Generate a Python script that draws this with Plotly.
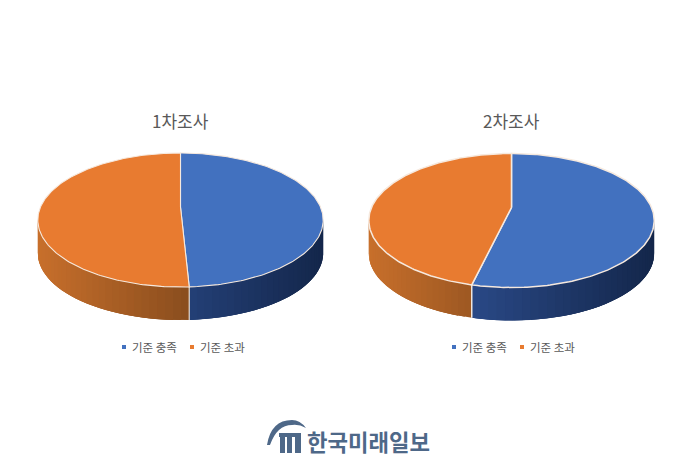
import numpy as np
import plotly.graph_objects as go

# 조사별 비율
categories = ['기준 충족', '기준 초과']
survey_titles = ['1차조사', '2차조사']
survey_1 = [49.2, 50.8]
survey_2 = [53.7, 46.3]

top_colors = ['#4271BF', '#E87B30']
side_left = [(0x36, 0x5C, 0xA8), (0xC8, 0x70, 0x2C)]
side_right = [(0x14, 0x27, 0x4B), (0x53, 0x2F, 0x12)]
text_color = '#595959'
logo_color = '#4E6888'
font_kr = 'Noto Sans CJK KR'

# 원판 모양
centers = [(180.5, 207), (511.5, 207.5)]
persp = 0.194
depth = 33
page_margin = 8  # 브라우저 body 기본 여백


def project(theta, cx, cy):
    # 시계방향, 12시 기준 / 뒤쪽이 작아 보이게 원근 적용
    u, v = np.sin(theta), np.cos(theta)
    w = 1 + persp * v
    return cx + 140 * u / w, cy - 64.5 * v / w


def lerp(a, b, t):
    t = min(max(t, 0), 1)
    return 'rgb(%d,%d,%d)' % tuple(a[i] + (b[i] - a[i]) * t for i in range(3))


def add_pie(fig, values, cx, cy, edge_width):
    shares = np.array(values) / sum(values)
    stops = np.concatenate([[0], np.cumsum(shares)]) * 2 * np.pi
    xmin, xmax = cx - 143, cx + 143

    # 옆면: 조각별로 잘게 나눠서 그라데이션 (틈이 안 보이게 겹쳐 그림)
    for k in range(len(values)):
        th = np.linspace(stops[k], stops[k + 1], 70)
        x, y = project(th, cx, cy)
        front = [i for i in range(len(th) - 1) if x[i + 1] < x[i]]
        for i in front:
            j = min(i + 3, front[-1] + 1)
            xs, ys = x[i:j + 1], y[i:j + 1]
            t = ((x[i] + x[i + 1]) / 2 - xmin) / (xmax - xmin)
            c = lerp(side_left[k], side_right[k], t)
            fig.add_trace(go.Scatter(
                x=np.concatenate([xs, xs[::-1], xs[:1]]),
                y=np.concatenate([ys, ys[::-1] + depth, ys[:1]]),
                mode='lines', fill='toself', fillcolor=c,
                line=dict(color=c, width=0),
                hoverinfo='skip', showlegend=False,
            ))

    # 옆면 경계선
    for s in stops[:-1]:
        x, y = project(np.array([s]), cx, cy)
        if np.cos(s) < 0:
            fig.add_trace(go.Scatter(
                x=[x[0], x[0]], y=[y[0], y[0] + depth], mode='lines',
                line=dict(color='#EFE6DE', width=edge_width),
                hoverinfo='skip', showlegend=False,
            ))

    # 윗면
    for k in range(len(values)):
        th = np.linspace(stops[k], stops[k + 1], 200)
        x, y = project(th, cx, cy)
        fig.add_trace(go.Scatter(
            x=np.concatenate([[cx], x, [cx]]),
            y=np.concatenate([[cy], y, [cy]]),
            mode='lines', fill='toself', fillcolor=top_colors[k],
            line=dict(color='#F6E9DE', width=edge_width),
            name=categories[k], hoverinfo='name', showlegend=False,
        ))


fig = go.Figure()
add_pie(fig, survey_1, *centers[0], 1.1)
add_pie(fig, survey_2, *centers[1], 1.5)

# 제목
for title, (cx, cy) in zip(survey_titles, centers):
    fig.add_annotation(x=cx, y=120, text=title, showarrow=False,
                       font=dict(family=font_kr, size=17, color=text_color))

# 범례
legend_pos = [[(124, 130), (192, 198)], [(454, 460), (522, 528)]]
for pos in legend_pos:
    for k, (mx, tx) in enumerate(pos):
        fig.add_trace(go.Scatter(
            x=[mx], y=[347], mode='markers',
            marker=dict(symbol='square', size=4, color=top_colors[k]),
            hoverinfo='skip', showlegend=False,
        ))
        fig.add_annotation(x=tx, y=347, text=categories[k], showarrow=False,
                           xanchor='left',
                           font=dict(family=font_kr, size=11.5, color=text_color))

# 로고
fig.add_annotation(x=305, y=441, text='<b>한국미래일보</b>', showarrow=False,
                   xanchor='left',
                   font=dict(family=font_kr, size=22.3, color=logo_color))
fig.add_shape(type='path', line_width=0, fillcolor=logo_color,
              path='M 267 445 Q 271 420 292 420 Q 300 420 306 428 '
                   'Q 299 424 292 425 Q 277 425 270 445 Z')
logo_bars = [(279, 433, 301, 437), (280, 433, 285, 453),
             (287, 437, 292, 453), (295, 437, 301, 453)]
for x0, y0, x1, y1 in logo_bars:
    fig.add_shape(type='rect', x0=x0, y0=y0, x1=x1, y1=y1,
                  line_width=0, fillcolor=logo_color)

fig.update_xaxes(range=[page_margin, 700], visible=False, fixedrange=True)
fig.update_yaxes(range=[466, page_margin], visible=False, fixedrange=True)
fig.update_layout(
    width=700 - page_margin, height=466 - page_margin,
    margin=dict(l=0, r=0, t=0, b=0),
    paper_bgcolor='white', plot_bgcolor='white',
    showlegend=False,
)
fig.write_html('out.html')
